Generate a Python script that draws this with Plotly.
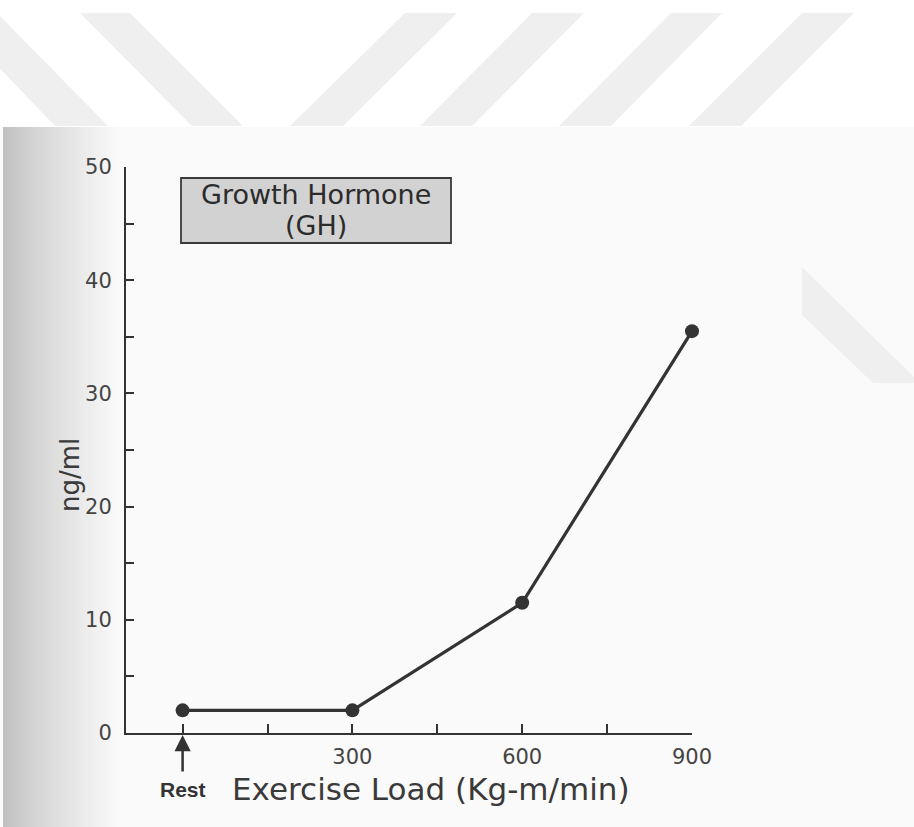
import plotly.graph_objects as go

# ---- data ----
exercise_load = [0, 300, 600, 900]          # Kg-m/min (0 = Rest)
gh_ng_ml = [2.0, 2.0, 11.5, 35.5]            # growth hormone, ng/ml

x_tick_vals = [0, 150, 300, 450, 600, 750, 900]
x_tick_text = ["", "", "300", "", "600", "", "900"]
y_tick_vals = [0, 10, 20, 30, 40, 50]
y_tick_text = ["0", "10", "20", "30", "40", "50"]

title_line1 = "Growth Hormone"
title_line2 = "(GH)"
x_title = "Exercise Load (Kg-m/min)"
y_title = "ng/ml"
rest_label = "<b>Rest</b>"

INK = "#333333"
FONT = "DejaVu Sans"

W, H = 914, 827
L, R, T, B = 126, 222, 167, 94

fig = go.Figure()
fig.add_trace(go.Scatter(
    x=exercise_load, y=gh_ng_ml, mode="lines+markers",
    line=dict(color=INK, width=3.2),
    marker=dict(color=INK, size=14),
    cliponaxis=False, showlegend=False, hoverinfo="skip",
))

pw = W - L - R
ph = H - T - B
def px2paperx(px):
    return (px - L) / pw
def py2papery(py):
    return (H - B - py) / ph

shapes = []
# scanned page tint
shapes.append(dict(type="rect", xref="paper", yref="paper", x0=-1, x1=2, y0=-1,
                   y1=py2papery(127), fillcolor="#fafafa", line_width=0, layer="below"))
# left-edge scan shadow (approximate gradient with thin strips)
steps = 28
for i in range(steps):
    x0 = 3 + i * 4
    t = i / (steps - 1)
    g = int(192 + (248 - 192) * (t ** 0.8))
    col = f"rgb({g},{g},{g})"
    shapes.append(dict(type="rect", xref="paper", yref="paper",
                       x0=px2paperx(x0), x1=px2paperx(x0 + 4.5),
                       y0=py2papery(H + 5), y1=py2papery(127),
                       fillcolor=col, line_width=0, layer="below"))
# watermark stripes (light gray) in the top band
wm = "#efefef"
band_top, band_bot = 13, 126
stripes = [
    ((-57, -3), (55, 108)),
    ((80, 130), (192, 243)),
    ((405, 457), (290, 343)),
    ((532, 584), (420, 472)),
    ((671, 722), (559, 611)),
    ((802, 854), (689, 741)),
]
def path_px(pts):
    s = ""
    for k, (px, py) in enumerate(pts):
        s += ("M" if k == 0 else "L") + f"{px2paperx(px):.5f},{py2papery(py):.5f} "
    return s + "Z"
for (ta, tb), (ba, bb) in stripes:
    if ta < 0:
        pts = [(0, band_top), (tb, band_top), (bb, band_bot), (ba, band_bot),
               (0, band_top + ba * (band_bot - band_top) / (ba - ta))]
    else:
        pts = [(ta, band_top), (tb, band_top), (bb, band_bot), (ba, band_bot)]
    shapes.append(dict(type="path", xref="paper", yref="paper", path=path_px(pts),
                       fillcolor=wm, line_width=0, layer="below"))
shapes.append(dict(type="path", xref="paper", yref="paper",
                   path=path_px([(802, 267), (914, 377), (914, 383), (873, 383), (802, 315)]),
                   fillcolor=wm, line_width=0, layer="below"))
# title box
shapes.append(dict(type="rect", xref="paper", yref="paper",
                   x0=px2paperx(181), x1=px2paperx(451), y0=py2papery(243), y1=py2papery(178),
                   fillcolor="#d2d2d2", line=dict(color="#3a3a3a", width=1.8), layer="above"))

annotations = [
    dict(x=px2paperx(316), y=py2papery(194), xref="paper", yref="paper", text=title_line1,
         showarrow=False, xanchor="center", yanchor="middle",
         font=dict(family=FONT, size=27, color="#2b2b2b")),
    dict(x=px2paperx(316), y=py2papery(226), xref="paper", yref="paper", text=title_line2,
         showarrow=False, xanchor="center", yanchor="middle",
         font=dict(family=FONT, size=27, color="#2b2b2b")),
    # Rest arrow
    dict(x=0, y=py2papery(735), xref="x", yref="paper", text="", showarrow=True,
         ax=0, ay=38, arrowhead=2, arrowsize=1.3, arrowwidth=2.5, arrowcolor=INK,
         standoff=0, startstandoff=0),
    dict(x=0, y=py2papery(789), xref="x", yref="paper", text=rest_label, showarrow=False,
         xanchor="center", yanchor="middle",
         font=dict(family="Liberation Sans", size=21, color=INK)),
    dict(x=px2paperx(431), y=py2papery(789), xref="paper", yref="paper", text=x_title,
         showarrow=False, xanchor="center", yanchor="middle",
         font=dict(family=FONT, size=31, color="#3a3a3a")),
    dict(x=px2paperx(70), y=py2papery(475), xref="paper", yref="paper", text=y_title,
         showarrow=False, textangle=-90, xanchor="center", yanchor="middle",
         font=dict(family=FONT, size=26, color="#3a3a3a")),
]

fig.update_layout(
    width=W, height=H, margin=dict(l=L, r=R, t=T, b=B, autoexpand=False),
    paper_bgcolor="white", plot_bgcolor="rgba(0,0,0,0)",
    shapes=shapes, annotations=annotations, showlegend=False,
    xaxis=dict(range=[-100, 900], showgrid=False, zeroline=False, showline=True,
               linecolor=INK, linewidth=2, ticks="inside", ticklen=9, tickwidth=1.5,
               tickcolor=INK, tickvals=x_tick_vals, ticktext=x_tick_text,
               tickfont=dict(family=FONT, size=21, color="#444444"), ticklabelstandoff=4),
    yaxis=dict(range=[0, 50], showgrid=False, zeroline=False, showline=True,
               linecolor=INK, linewidth=2, ticks="inside", ticklen=8, tickwidth=1.5,
               tickcolor=INK, tickvals=y_tick_vals, ticktext=y_tick_text,
               minor=dict(ticks="inside", dtick=5, ticklen=8, tickwidth=1.5, tickcolor=INK),
               tickfont=dict(family=FONT, size=21, color="#444444"), ticklabelstandoff=8),
)

fig.write_html("out.html")
